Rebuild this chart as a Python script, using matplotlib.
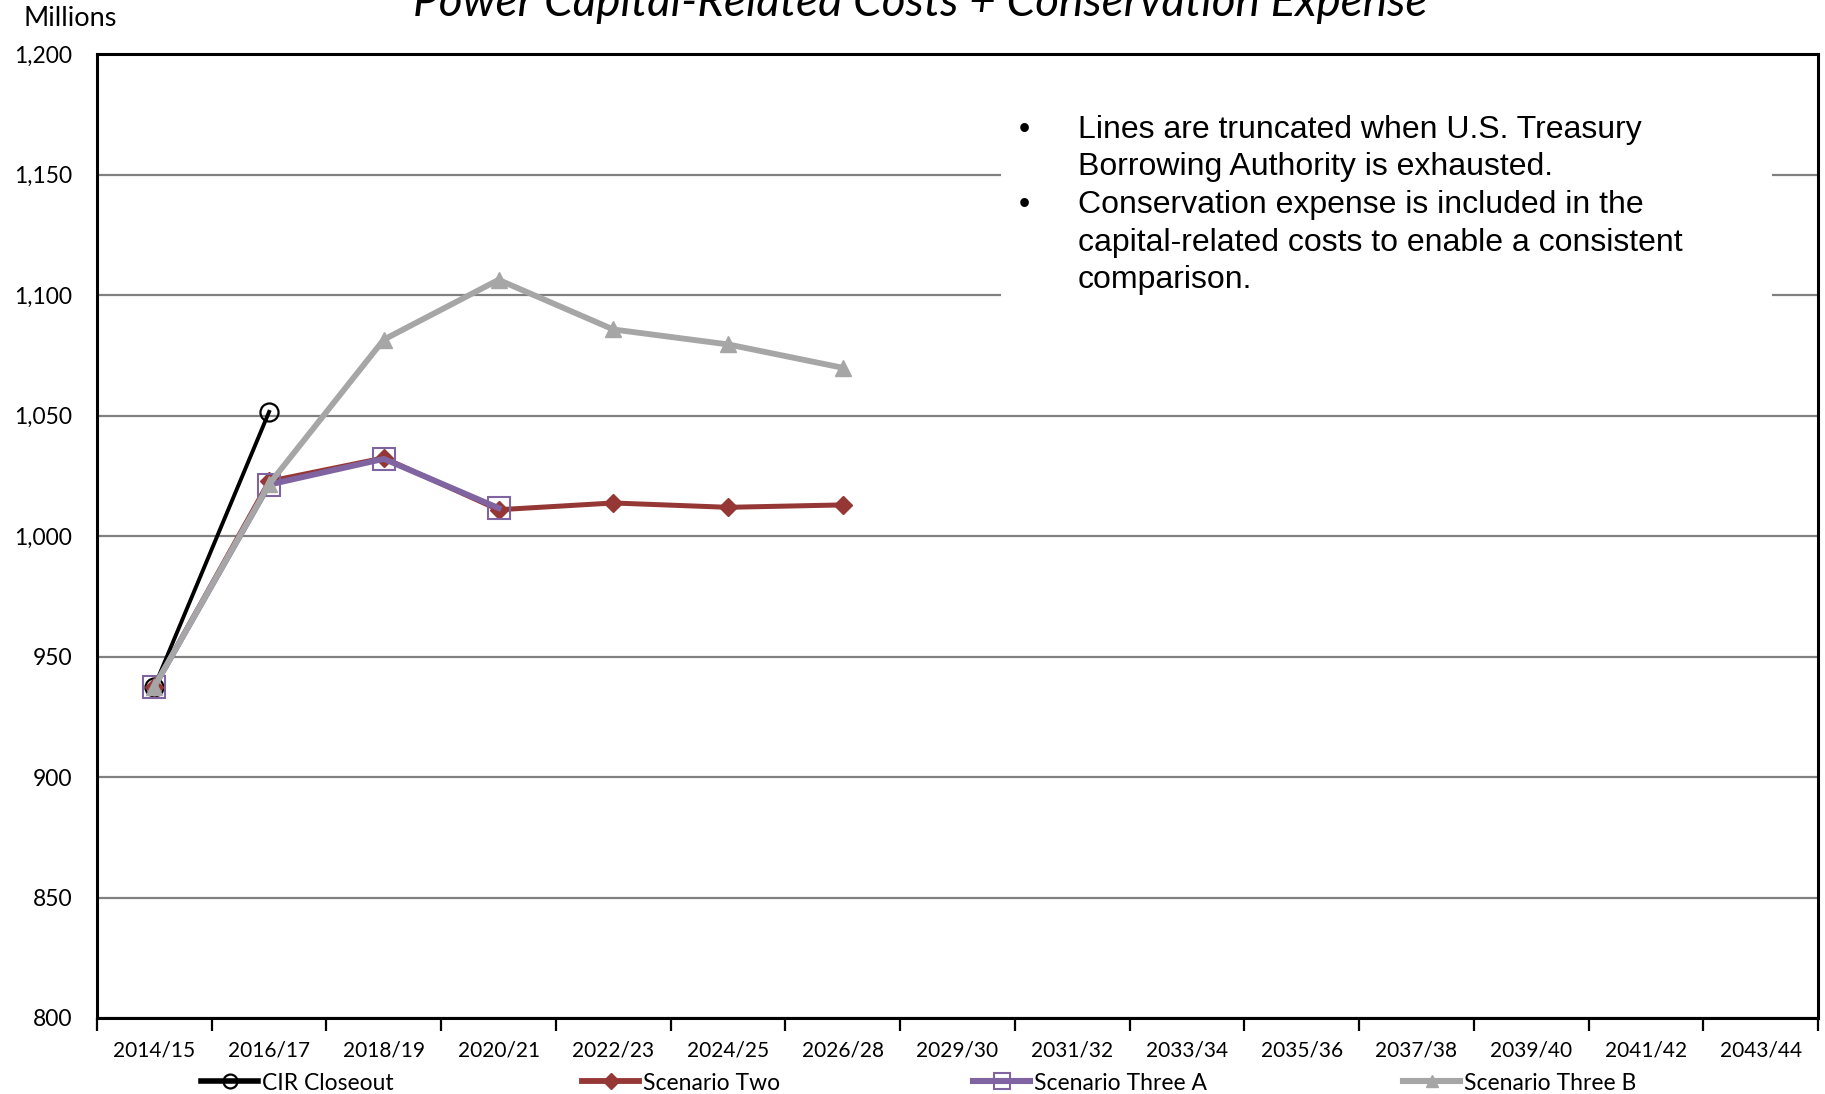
import matplotlib
matplotlib.use("Agg")
import matplotlib.pyplot as plt
from matplotlib.lines import Line2D
import numpy as np

# Fiscal-year categories along the x axis
periods = ["2014/15", "2016/17", "2018/19", "2020/21", "2022/23", "2024/25", "2026/28",
           "2029/30", "2031/32", "2033/34", "2035/36", "2037/38", "2039/40", "2041/42", "2043/44"]

# Power capital-related costs + conservation expense ($ millions); lines end when
# Treasury borrowing authority is exhausted
cir_closeout = [937.5, 1051.5]
scenario_two = [937.5, 1022.7, 1032.4, 1010.9, 1013.7, 1011.9, 1012.9]
scenario_three_a = [937.5, 1021.3, 1032.0, 1011.6]
scenario_three_b = [937.5, 1021.5, 1081.5, 1106.3, 1085.7, 1079.5, 1069.8]

y_ticks = [800, 850, 900, 950, 1000, 1050, 1100, 1150, 1200]

notes_text = ("Lines are truncated when U.S. Treasury\n"
              "Borrowing Authority is exhausted.\n"
              "Conservation expense is included in the\n"
              "capital-related costs to enable a consistent\n"
              "comparison.")
bullets_text = "\u2022\n\n\u2022\n\n"

LABEL_FONT = "Lato"
NOTE_FONT = "Liberation Sans"

W, H = 1825, 1094
fig = plt.figure(figsize=(W / 100, H / 100), dpi=100)
ax = fig.add_axes([97 / W, 1 - 1018 / H, (1818 - 97) / W, (1018 - 54) / H])

x = np.arange(len(periods))

series = [
    ("CIR Closeout", cir_closeout,
     dict(color="black", lw=2.8, marker="o", ms=13, mfc="none", mec="black", mew=1.6),
     dict(ms=10, lw=4.0)),
    ("Scenario Two", scenario_two,
     dict(color="#953735", lw=3.6, marker="D", ms=9, mfc="#953735", mec="#953735"),
     dict(ms=8, lw=4.2)),
    ("Scenario Three A", scenario_three_a,
     dict(color="#8064A2", lw=4.2, marker="s", ms=16, mfc="none", mec="#8064A2", mew=1.5),
     dict(ms=11, lw=4.4)),
    ("Scenario Three B", scenario_three_b,
     dict(color="#A6A6A6", lw=4.2, marker="^", ms=12, mfc="#A6A6A6", mec="#A6A6A6"),
     dict(ms=9, lw=4.4)),
]
for i, (name, vals, style, _) in enumerate(series):
    ax.plot(x[:len(vals)], vals, label=name, zorder=3 + i, **style)

ax.set_xlim(-0.5, len(periods) - 0.5)
ax.set_ylim(800, 1200)

# Category boundaries carry the tick marks, labels sit at category centres
ax.set_xticks(np.arange(-0.5, len(periods)), minor=False)
ax.set_xticklabels([])
ax.set_xticks(x, minor=True)
ax.set_xticklabels(periods, minor=True, fontsize=15, family=LABEL_FONT)
ax.tick_params(axis="x", which="major", direction="out", length=9, width=1.6, color="black")
ax.tick_params(axis="x", which="minor", length=0, pad=16)

ax.set_yticks(y_ticks)
ax.set_yticklabels([f"{v:,}" for v in y_ticks], fontsize=16.5, family=LABEL_FONT)
ax.tick_params(axis="y", length=0, pad=18)

ax.grid(axis="y", color="#808080", lw=1.6, zorder=1)
ax.set_axisbelow(True)
for side in ["left", "bottom", "top", "right"]:
    ax.spines[side].set_linewidth(2.2)
    ax.spines[side].set_color("black")

# Notes panel with opaque white background hiding the gridlines
ax.add_patch(plt.Rectangle((0.525, 0.69), 0.448, 0.27, transform=ax.transAxes,
                           facecolor="white", edgecolor="none", zorder=2))
ax.text(0.5355, 0.937, bullets_text, transform=ax.transAxes, fontsize=23, family=NOTE_FONT,
        va="top", ha="left", linespacing=1.33, zorder=8)
ax.text(0.570, 0.937, notes_text, transform=ax.transAxes, fontsize=23, family=NOTE_FONT,
        va="top", ha="left", linespacing=1.33, zorder=8)

fig.text(0.504, 1 - 16 / H, "Power Capital-Related Costs + Conservation Expense",
         ha="center", va="baseline", fontsize=33, style="italic", family=LABEL_FONT)
fig.text(23 / W, 1 - 26 / H, "Millions", ha="left", va="baseline", fontsize=19.5,
         family=LABEL_FONT)

# One legend entry per series, spread across the bottom edge
legend_x = [201, 582, 973, 1403]
for (name, _, style, leg_style), lx in zip(series, legend_x):
    st = dict(style)
    st.update(leg_style)
    handle = Line2D([], [], **st)
    fig.legend(handles=[handle], labels=[name], loc="center left",
               bbox_to_anchor=(lx / W, 1 - 1083 / H), frameon=False,
               prop={"family": LABEL_FONT, "size": 16.5}, handlelength=2.5,
               handletextpad=0.15, borderpad=0, borderaxespad=0)

fig.savefig("out.png", dpi=100)
